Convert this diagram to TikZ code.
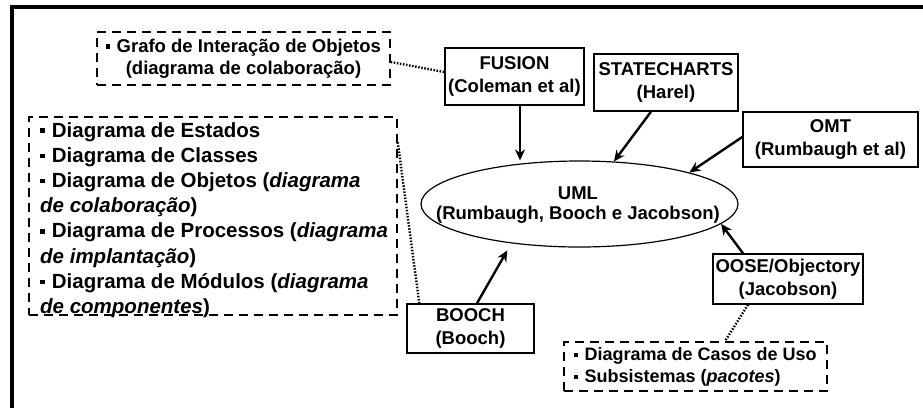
\documentclass[tikz,border=0pt]{standalone}
\usepackage{fontspec}
\setmainfont{Liberation Sans}
\usetikzlibrary{arrows.meta,shapes.geometric}
\newcommand\bul{\rule[0.2em]{0.22em}{0.22em}\hspace{0.35em}}
\begin{document}
\begin{tikzpicture}[x=1pt,y=-1pt,
  solidbox/.style={draw, line width=1.4pt, inner sep=0pt, align=center,
    font=\fontsize{18.5}{22.5}\selectfont\bfseries},
  dashbox/.style={draw, dash pattern=on 9pt off 6pt, line width=1.5pt, inner sep=0pt},
  arr/.style={line width=2.4pt, -{Stealth[length=11pt,width=10pt]}},
  dotline/.style={line width=2.4pt, dash pattern=on 1.5pt off 1.6pt},
  frameline/.style={line width=3.5pt}]
\fill[white] (0,0) rectangle (923,408);
\useasboundingbox (0,0) rectangle (923,408);
\draw[frameline] (10,7) -- (923,7);
\draw[frameline] (12,5.5) -- (12,408);

\node[dashbox, minimum width=293pt, minimum height=53pt, align=center,
  font=\fontsize{18.5}{22}\selectfont\bfseries] (grafo) at (243.5,58.5)
  {\bul Grafo de Interação de Objetos\\(diagrama de colaboração)};

\node[solidbox, minimum width=139pt, minimum height=57pt] (fusion) at (514.5,76.5)
  {FUSION\\(Coleman et al)};
\node[solidbox, minimum width=144pt, minimum height=57pt] (state) at (666,82.5)
  {STATECHARTS\\(Harel)};
\node[solidbox, minimum width=175pt, minimum height=55pt] (omt) at (830.5,139.5)
  {OMT\\(Rumbaugh et al)};
\node[draw, ellipse, line width=1.2pt, minimum width=317pt, minimum height=86pt,
  inner sep=0pt] (uml) at (579.5,204) {};
\node[inner sep=0pt, align=center, font=\fontsize{18.5}{20.5}\selectfont\bfseries]
  (umltxt) at (578,205) {UML\\(Rumbaugh, Booch e Jacobson)};
\node[solidbox, minimum width=127pt, minimum height=49pt] (booch) at (470.5,328.5)
  {BOOCH\\(Booch)};
\node[solidbox, minimum width=150pt, minimum height=50pt] (oose) at (788,279)
  {OOSE/Objectory\\(Jacobson)};
\node[dashbox, minimum width=263pt, minimum height=49pt, align=left,
  font=\fontsize{18}{22}\selectfont\bfseries] (casos) at (695.5,366.5)
  {\bul Diagrama de Casos de Uso\\\bul Subsistemas (\textit{pacotes})};

\node[dashbox, minimum width=368pt, minimum height=198pt] (list) at (213,216) {};
\node[anchor=north west, inner sep=0pt, align=left,
  font=\fontsize{20.5}{25.2}\selectfont\bfseries] (listtxt) at (40,122)
  {\bul Diagrama de Estados\\
   \bul Diagrama de Classes\\
   \bul Diagrama de Objetos (\textit{diagrama}\\
   \textit{de colaboração})\\
   \bul Diagrama de Processos (\textit{diagrama}\\
   \textit{de implantação})\\
   \bul Diagrama de Módulos (\textit{diagrama}\\
   \textit{de componentes})};

\draw[arr] ([xshift=5.5pt]fusion.south) -- ([xshift=5.5pt]fusion.south |- uml.north);
\draw[arr] ([xshift=-15pt]state.south) -- (uml.51);
\draw[arr] ([yshift=2.5pt]omt.west) -- (uml.16);
\draw[arr] ([xshift=-45pt]oose.north) -- (uml.-8);
\draw[arr, shorten >=8pt] ([xshift=6.5pt]booch.north) -- (uml.210);

\draw[dotline] ([yshift=-3.5pt]grafo.east) -- ([yshift=4.5pt]fusion.west);
\draw[dotline] ([yshift=-26pt]list.north east) -- ([xshift=13pt]booch.north west);
\draw[dotline] ([xshift=-40pt]oose.south) -- ([xshift=29.5pt]casos.north);
\end{tikzpicture}
\end{document}
